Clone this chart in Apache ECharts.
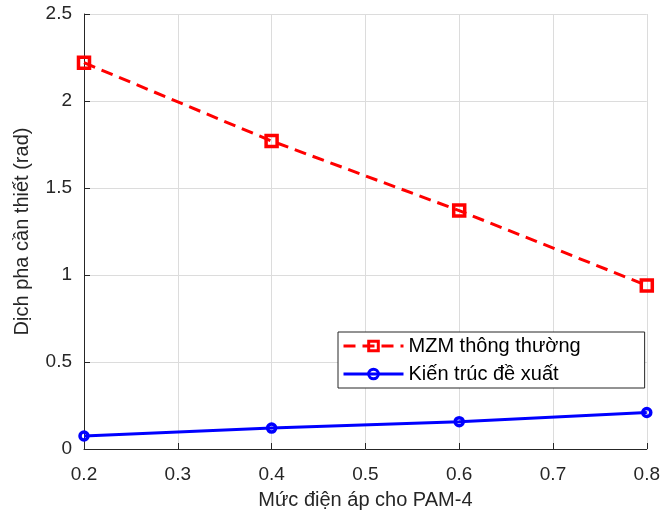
<!DOCTYPE html>
<html>
<head>
<meta charset="utf-8">
<script src="https://cdn.jsdelivr.net/npm/echarts@6/dist/echarts.min.js"></script>
<style>html,body{margin:0;padding:0;background:#fff}#c{width:663px;height:515px}</style>
</head>
<body>
<div id="c"></div>
<script>
const xValues = [0.2, 0.4, 0.6, 0.8];
const mzmValues = [2.22, 1.77, 1.37, 0.94];
const proposedValues = [0.075, 0.12, 0.157, 0.21];
const seriesNames = ['MZM thông thường', 'Kiến trúc đề xuất'];
const xName = 'Mức điện áp cho PAM-4';
const yName = 'Dịch pha cần thiết (rad)';

const FONT = '"Liberation Sans", Arial, sans-serif';
const chart = echarts.init(document.getElementById('c'), null, {renderer: 'canvas'});
const axisCommon = {
  type: 'value',
  nameLocation: 'middle',
  nameTextStyle: {fontFamily: FONT, fontSize: 20, color: '#262626'},
  axisLine: {show: true, lineStyle: {color: '#262626', width: 1}},
  axisTick: {show: true, inside: true, length: 6, lineStyle: {color: '#262626'}},
  axisLabel: {fontFamily: FONT, fontSize: 19, color: '#262626'},
  splitLine: {show: true, lineStyle: {color: '#dcdcdc', width: 1}}
};
chart.setOption({
  animation: false,
  backgroundColor: '#fff',
  grid: {left: 84, right: 15, top: 14, bottom: 66, containLabel: false},
  xAxis: Object.assign({}, axisCommon, {
    min: 0.2, max: 0.8, interval: 0.1,
    name: xName, nameGap: 41,
    axisLabel: Object.assign({}, axisCommon.axisLabel, {margin: 16, formatter: v => (+v.toFixed(1)).toString()})
  }),
  yAxis: Object.assign({}, axisCommon, {
    min: 0, max: 2.5, interval: 0.5,
    name: yName, nameGap: 52,
    axisLabel: Object.assign({}, axisCommon.axisLabel, {margin: 12})
  }),
  legend: {
    show: true,
    orient: 'vertical',
    left: 338, top: 332,
    backgroundColor: '#fff',
    borderColor: '#262626', borderWidth: 1,
    padding: [4, 64, 4, 4],
    itemGap: 8,
    itemWidth: 60, itemHeight: 12,
    lineStyle: {width: 3},
    itemStyle: {borderWidth: 3},
    textStyle: {fontFamily: FONT, fontSize: 20, color: '#000'},
    data: seriesNames
  },
  series: [
    {
      name: seriesNames[0], type: 'line',
      data: xValues.map((x, i) => [x, mzmValues[i]]),
      symbol: 'rect', symbolSize: 11,
      lineStyle: {color: '#ff0000', width: 3, type: [12, 7]},
      itemStyle: {color: 'rgba(255,255,255,0)', borderColor: '#ff0000', borderWidth: 3.5},
      z: 3
    },
    {
      name: seriesNames[1], type: 'line',
      data: xValues.map((x, i) => [x, proposedValues[i]]),
      symbol: 'circle', symbolSize: 8,
      lineStyle: {color: '#0000ff', width: 3},
      itemStyle: {color: 'rgba(255,255,255,0)', borderColor: '#0000ff', borderWidth: 3.5},
      z: 3
    }
  ]
});
</script>
</body>
</html>
